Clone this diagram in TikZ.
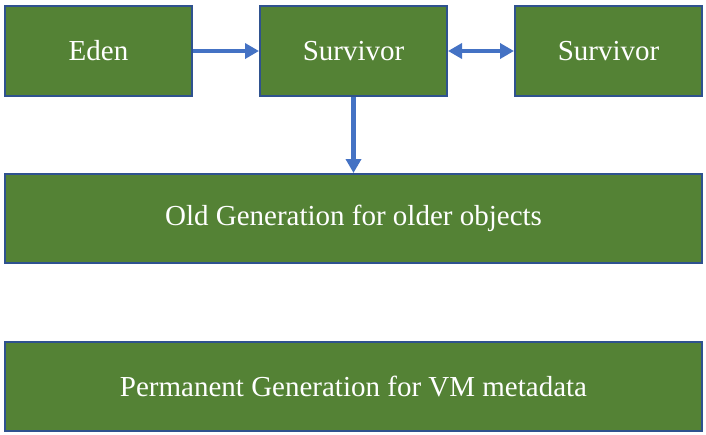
\documentclass[tikz,border=0pt]{standalone}
\usepackage{fontspec}
\setmainfont{Liberation Serif}
\usetikzlibrary{arrows.meta}
\definecolor{boxfill}{HTML}{548235}
\definecolor{boxline}{HTML}{2F528F}
\definecolor{arrowblue}{HTML}{4472C4}
\begin{document}
\begin{tikzpicture}[x=1pt,y=-1pt,
  region/.style={draw=boxline,line width=2pt,fill=boxfill,text=white,
    font=\fontsize{29}{34}\selectfont,inner sep=0pt},
  flow/.style={draw=arrowblue,line width=4.5pt,
    -{Triangle[length=14pt,width=15pt]}},
  bothways/.style={draw=arrowblue,line width=4.5pt,
    {Triangle[length=14pt,width=15pt]}-{Triangle[length=14pt,width=15pt]}}]
  \useasboundingbox (0,0) rectangle (706,434);
  % young generation
  \node[region,minimum width=187pt,minimum height=90pt] (eden) at (98.5,51) {Eden};
  \node[region,minimum width=187pt,minimum height=90pt] (surv1) at (353.5,51) {Survivor};
  \node[region,minimum width=187pt,minimum height=90pt] (surv2) at (608.5,51) {Survivor};
  % old and permanent generations
  \node[region,minimum width=697pt,minimum height=89pt] (old) at (353.5,218.5) {Old Generation for older objects};
  \node[region,minimum width=697pt,minimum height=89pt] (perm) at (353.5,386.5) {Permanent Generation for VM metadata};
  % promotion paths
  \draw[flow] (eden.east) -- (surv1.west);
  \draw[bothways] (surv1.east) -- (surv2.west);
  \draw[flow] (surv1.south) -- (old.north);
\end{tikzpicture}
\end{document}
